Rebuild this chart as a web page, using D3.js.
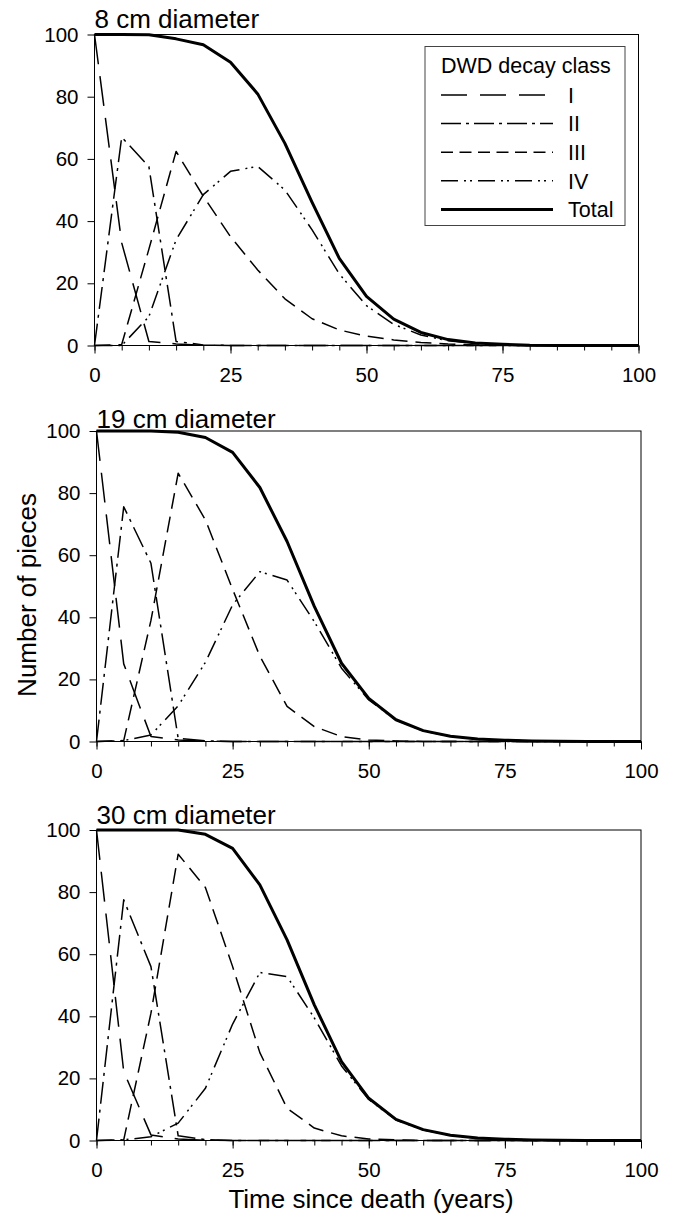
<!DOCTYPE html>
<html>
<head>
<meta charset="utf-8">
<script src="https://cdn.jsdelivr.net/npm/d3@7"></script>
<style>
  body { margin: 0; background: #fff; }
  svg { display: block; font-family: Arial, "Liberation Sans", sans-serif; }
</style>
</head>
<body>
<svg id="chart" width="674" height="1216"></svg>
<script>
// time since death (years)
const years = [0, 5, 10, 15, 20, 25, 30, 35, 40, 45, 50, 55, 60, 65, 70, 75, 80, 85, 90, 95, 100];
const classNames = ['I', 'II', 'III', 'IV', 'Total'];
const panelTitles = ['8 cm diameter', '19 cm diameter', '30 cm diameter'];
const xTicks = [0, 25, 50, 75, 100];
const xMinorTicks = [0, 5, 10, 15, 20, 25, 30, 35, 40, 45, 50, 55, 60, 65, 70, 75, 80, 85, 90, 95, 100];
const yTicks = [0, 20, 40, 60, 80, 100];

// 8 cm
const d8_I     = [100, 33, 1.3, 0.5, 0.1, 0, 0, 0, 0, 0, 0, 0, 0, 0, 0, 0, 0, 0, 0, 0, 0];
const d8_II    = [0, 67, 57.5, 1.3, 0.2, 0, 0, 0, 0, 0, 0, 0, 0, 0, 0, 0, 0, 0, 0, 0, 0];
const d8_III   = [0, 0.3, 31, 62.4, 48, 35, 24.3, 15, 8.6, 5, 3, 1.8, 1, 0.5, 0.2, 0.1, 0, 0, 0, 0, 0];
const d8_IV    = [0, 0, 9.3, 34, 48.5, 56, 57.6, 50, 37.2, 23, 12.8, 6.8, 3.4, 1.5, 0.7, 0.3, 0.1, 0, 0, 0, 0];
const d8_Total = [100, 100, 99.9, 98.6, 96.7, 91.1, 80.9, 65, 46, 28, 15.8, 8.5, 4.2, 1.9, 0.8, 0.4, 0.1, 0, 0, 0, 0];

// 19 cm
const d19_I     = [100, 25, 1.6, 0.5, 0.1, 0, 0, 0, 0, 0, 0, 0, 0, 0, 0, 0, 0, 0, 0, 0, 0];
const d19_II    = [0, 75.6, 57.4, 1, 0.2, 0, 0, 0, 0, 0, 0, 0, 0, 0, 0, 0, 0, 0, 0, 0, 0];
const d19_III   = [0, 0.3, 39, 86.4, 71.4, 49, 27.5, 11.3, 4.8, 1.6, 0.5, 0.2, 0, 0, 0, 0, 0, 0, 0, 0, 0];
const d19_IV    = [0, 0.3, 2.1, 11.5, 25.5, 44, 54.7, 52, 38.6, 23.6, 13.4, 6.9, 3.4, 1.7, 0.8, 0.4, 0.2, 0.1, 0, 0, 0];
const d19_Total = [100, 100, 100, 99.6, 97.9, 93.1, 81.8, 64.4, 43.5, 25.2, 13.9, 7, 3.5, 1.7, 0.8, 0.4, 0.2, 0.1, 0, 0, 0];

// 30 cm
const d30_I     = [100, 22.2, 1.8, 0.5, 0.1, 0, 0, 0, 0, 0, 0, 0, 0, 0, 0, 0, 0, 0, 0, 0, 0];
const d30_II    = [0, 77.5, 56, 1.5, 0.3, 0, 0, 0, 0, 0, 0, 0, 0, 0, 0, 0, 0, 0, 0, 0, 0];
const d30_III   = [0, 0.2, 41, 92.2, 81.5, 56, 28.3, 10.4, 4, 1.5, 0.5, 0.2, 0, 0, 0, 0, 0, 0, 0, 0, 0];
const d30_IV    = [0, 0.2, 1.2, 5.6, 16.8, 37.5, 54.1, 52.8, 39.5, 24, 13.2, 6.6, 3.4, 1.7, 0.8, 0.4, 0.2, 0.1, 0, 0, 0];
const d30_Total = [100, 100, 100, 100, 98.6, 94.1, 82.3, 64.6, 43.7, 25.4, 13.6, 6.8, 3.5, 1.7, 0.8, 0.4, 0.2, 0.1, 0, 0, 0];

const panelSeries = [
  [d8_I, d8_II, d8_III, d8_IV, d8_Total],
  [d19_I, d19_II, d19_III, d19_IV, d19_Total],
  [d30_I, d30_II, d30_III, d30_IV, d30_Total]
];

// line look per class
const dashes = ['30,12', '22,6,3,6', '16,8', '18,6,2,4,2,6', null];
const legendDashes = ['26,13', '20,5,3,5', '12,6.5', '17,6,2,4,2,6', null];
const widths = [1.5, 1.5, 1.5, 1.5, 3];

// plot boxes (px)
const boxes = [
  { left: 94.5, right: 638.5, top: 34.5, bottom: 345.5, titleY: 27.5 },
  { left: 96.5, right: 641, top: 431, bottom: 741.5, titleY: 428 },
  { left: 96.5, right: 641, top: 830, bottom: 1140.5, titleY: 823.5 }
];

const svg = d3.select('#chart');

boxes.forEach((b, p) => {
  const x = d3.scaleLinear().domain([0, 100]).range([b.left, b.right]);
  const y = d3.scaleLinear().domain([0, 100]).range([b.bottom, b.top]);

  const g = svg.append('g');

  // frame
  g.append('rect')
    .attr('x', b.left).attr('y', b.top)
    .attr('width', b.right - b.left).attr('height', b.bottom - b.top)
    .attr('fill', 'none').attr('stroke', '#000').attr('stroke-width', 1);

  // minor x ticks
  g.append('g')
    .attr('transform', `translate(0,${b.bottom})`)
    .call(d3.axisBottom(x).tickValues(xMinorTicks).tickSize(5).tickFormat(''))
    .call(a => a.select('.domain').remove());

  // major x ticks + labels
  g.append('g')
    .attr('transform', `translate(0,${b.bottom})`)
    .call(d3.axisBottom(x).tickValues(xTicks).tickSize(8).tickPadding(14).tickFormat(d3.format('d')))
    .call(a => a.select('.domain').remove())
    .call(a => a.selectAll('text').attr('font-size', 20.5).attr('font-family', null).attr('fill', '#000'));

  // y axis
  g.append('g')
    .attr('transform', `translate(${b.left},0)`)
    .call(d3.axisLeft(y).tickValues(yTicks).tickSize(7).tickPadding(9))
    .call(a => a.select('.domain').remove())
    .call(a => a.selectAll('text').attr('font-size', 20.5).attr('font-family', null).attr('fill', '#000'));

  // title
  g.append('text')
    .attr('x', b.left).attr('y', b.titleY)
    .attr('font-size', 26)
    .text(panelTitles[p]);

  const line = d3.line()
    .x((d, i) => x(years[i]))
    .y(d => y(d));

  panelSeries[p].forEach((vals, k) => {
    g.append('path')
      .datum(vals)
      .attr('d', line)
      .attr('fill', 'none')
      .attr('stroke', '#000')
      .attr('stroke-width', widths[k])
      .attr('stroke-dasharray', dashes[k])
      .attr('stroke-linejoin', 'round');
  });

  if (p === 0) {
    // legend
    const lg = g.append('g').attr('transform', `translate(${b.left + 330.5},${b.top + 12})`);
    lg.append('rect')
      .attr('width', 200).attr('height', 179)
      .attr('fill', '#fff').attr('stroke', '#444').attr('stroke-width', 1);
    lg.append('text')
      .attr('x', 16).attr('y', 26)
      .attr('font-size', 21.5)
      .text('DWD decay class');
    classNames.forEach((name, k) => {
      const ry = 48.5 + k * 28.6;
      lg.append('line')
        .attr('x1', 16).attr('x2', 128)
        .attr('y1', ry).attr('y2', ry)
        .attr('stroke', '#000')
        .attr('stroke-width', widths[k])
        .attr('stroke-dasharray', legendDashes[k]);
      lg.append('text')
        .attr('x', 143).attr('y', ry)
        .attr('dy', '0.36em')
        .attr('font-size', 21.5)
        .text(name);
    });
  }
});

// axis titles
svg.append('text')
  .attr('transform', 'translate(36,595) rotate(-90)')
  .attr('text-anchor', 'middle')
  .attr('font-size', 26)
  .text('Number of pieces');

svg.append('text')
  .attr('x', 371).attr('y', 1208)
  .attr('text-anchor', 'middle')
  .attr('font-size', 26)
  .text('Time since death (years)');
</script>
</body>
</html>
